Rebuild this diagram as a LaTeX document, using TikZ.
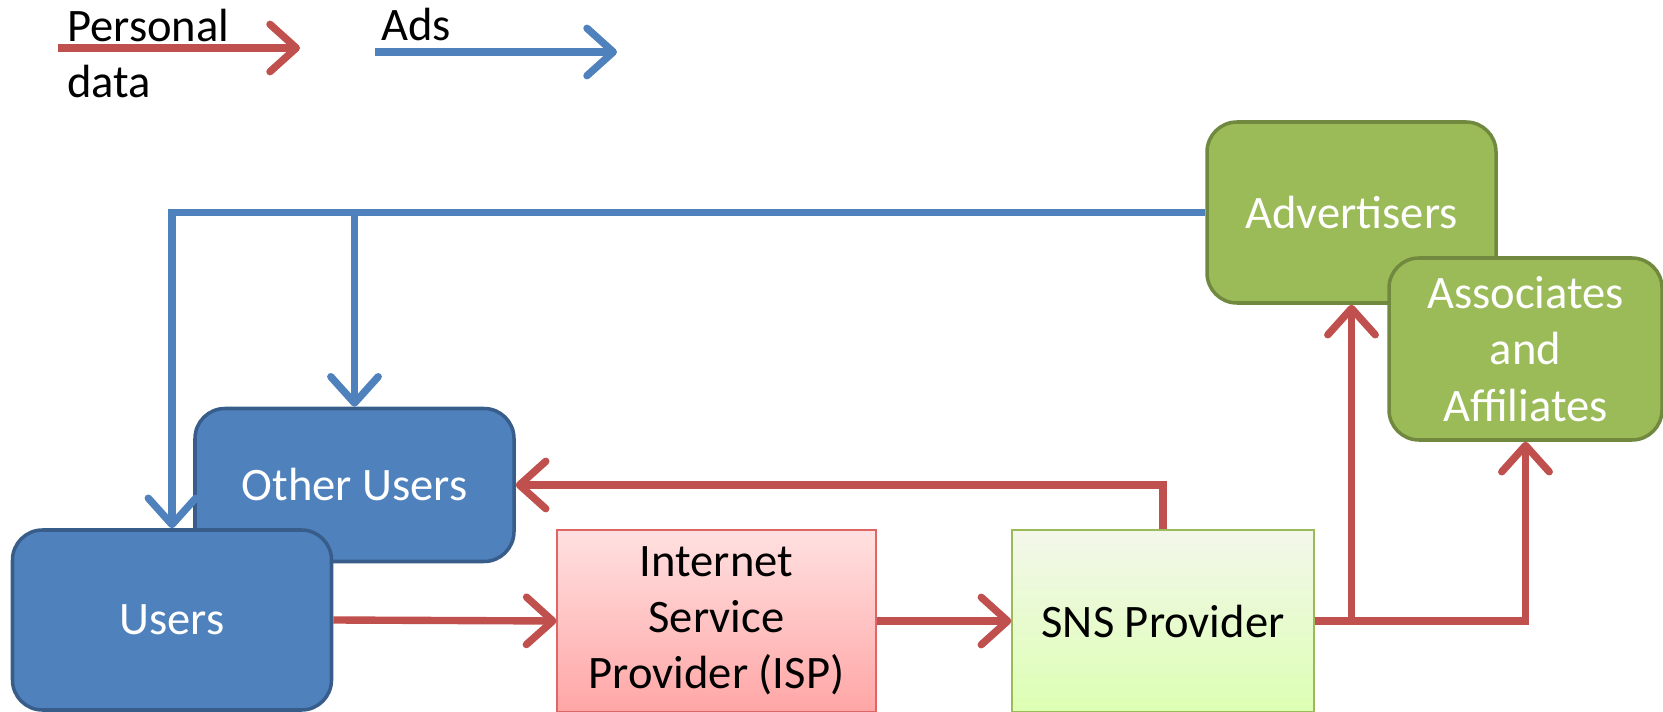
\documentclass[tikz,border=0pt]{standalone}
\usepackage{fontspec}
\setmainfont{Carlito}
\usetikzlibrary{arrows.meta}
\definecolor{adblue}{HTML}{4F81BD}
\definecolor{adbluedark}{HTML}{385D8A}
\definecolor{datared}{HTML}{C0504D}
\definecolor{partner}{HTML}{9BBB59}
\definecolor{partnerdark}{HTML}{71893F}
\definecolor{ispline}{HTML}{E06666}
\newcommand{\diagfont}{\fontsize{26.5}{32}\selectfont}
\tikzset{every node/.style={font=\diagfont},
  userbox/.style={draw=adbluedark, fill=adblue, line width=2pt, rounded corners=0.6cm,
    text=white, align=center, minimum width=6.38cm},
  partnerbox/.style={draw=partnerdark, fill=partner, line width=2pt, rounded corners=0.6cm,
    text=white, align=center},
  pdata/.style={draw=datared, line width=4.2pt, -{Straight Barb[length=15pt,width=27pt,round]}},
  ads/.style={draw=adblue, line width=4.2pt, -{Straight Barb[length=15pt,width=27pt,round]}}}

\begin{document}
\begin{tikzpicture}
  \useasboundingbox (0,0) rectangle (33.26,-14.24);
  % legend
  \node[anchor=base west, inner sep=0, align=left] (pdlabel) at (1.34,-1.96) {Personal\\data};
  \node[anchor=base west, inner sep=0] (adlabel) at (7.62,-0.82) {Ads};
  \coordinate (pd0) at (1.16,-0.96);
  \coordinate (pd1) at (6.0,-0.96);
  \coordinate (ad0) at (7.5,-1.04);
  \coordinate (ad1) at (12.34,-1.04);
  \draw[pdata] (pd0) -- (pd1);
  \draw[ads] (ad0) -- (ad1);
  % boxes
  \node[userbox, minimum height=3.06cm] (other) at (7.09,-9.70) {Other Users};
  \node[userbox, minimum height=3.6cm] (users) at (3.44,-12.40) {Users};
  \node[draw=ispline, line width=0.6pt, top color=red!12, bottom color=red!35,
    align=center, minimum width=6.38cm, minimum height=3.64cm] (isp) at (14.33,-12.42)
    {Internet\\Service\\Provider (ISP)};
  \node[draw=partner, line width=0.8pt, top color=partner!12, bottom color=green!45!yellow!30,
    minimum width=6.04cm, minimum height=3.64cm] (sns) at (23.26,-12.42) {SNS Provider};
  \node[partnerbox, minimum width=5.78cm, minimum height=3.62cm] (adv) at (27.03,-4.25) {Advertisers};
  \node[partnerbox, minimum width=5.46cm, minimum height=3.64cm] (assoc) at (30.51,-6.98)
    {Associates\\and\\Affiliates};
  % flows
  \draw[ads] (adv.west) -| (users.north);
  \draw[ads] (adv.west) -| (other.north);
  \draw[pdata] (users.east) -- (isp.west);
  \draw[pdata] (isp.east) -- (sns.west);
  \draw[pdata] (sns.north) |- (other.east);
  \draw[pdata] (sns.east) -| (adv.south);
  \draw[pdata] (sns.east) -| (assoc.south);
\end{tikzpicture}
\end{document}
